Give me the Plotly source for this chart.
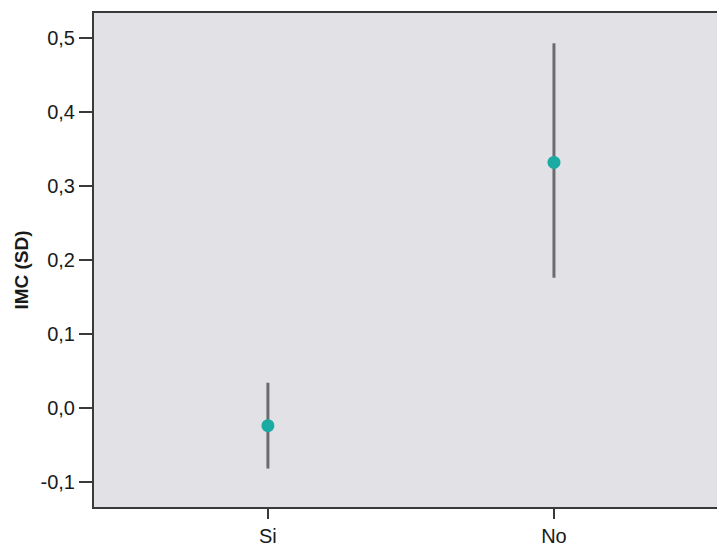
import plotly.graph_objects as go

categories = ["Si", "No"]
means = [-0.024, 0.332]
upper = [0.034, 0.493]
lower = [-0.082, 0.176]
tick_vals = [-0.1, 0.0, 0.1, 0.2, 0.3, 0.4, 0.5]
tick_text = ["-0,1", "0,0", "0,1", "0,2", "0,3", "0,4", "0,5"]
y_title = "IMC (SD)"

err_plus = [u - m for u, m in zip(upper, means)]
err_minus = [m - l for m, l in zip(means, lower)]

fig = go.Figure()
fig.add_trace(go.Scatter(
    x=categories, y=means, mode="markers",
    marker=dict(color="#1AABA3", size=13, line=dict(width=0)),
    error_y=dict(type="data", symmetric=False, array=err_plus, arrayminus=err_minus,
                 color="#6B6B70", thickness=3, width=0),
    showlegend=False,
))

fig.add_annotation(
    text="<b>" + y_title + "</b>", textangle=-90,
    xref="paper", yref="paper", x=-0.116, y=0.48,
    xanchor="center", yanchor="middle", showarrow=False,
    font=dict(size=19, color="#1a1a1a"),
)

fig.update_layout(
    width=718, height=546,
    margin=dict(l=94, r=1, t=13, b=39),
    paper_bgcolor="white", plot_bgcolor="#E1E1E6",
    font=dict(family="Liberation Sans, Arial, sans-serif", color="#1a1a1a", size=20),
    xaxis=dict(
        type="category", range=[-0.608, 1.57], automargin=False,
        showgrid=False, zeroline=False,
        showline=True, linecolor="#3a3a3a", linewidth=2, mirror=True,
        ticks="outside", ticklen=10, tickcolor="#3a3a3a", tickwidth=2,
        tickfont=dict(size=20),
    ),
    yaxis=dict(
        range=[-0.134, 0.534], automargin=False,
        tickvals=tick_vals, ticktext=tick_text,
        showgrid=False, zeroline=False,
        showline=True, linecolor="#3a3a3a", linewidth=2,
        ticks="outside", ticklen=13, tickcolor="#3a3a3a", tickwidth=2,
        tickfont=dict(size=20),
    ),
)

fig.write_html(
    "out.html",
    config={"displayModeBar": False},
    post_script="document.body.style.margin='0';document.body.style.overflow='hidden';",
)
